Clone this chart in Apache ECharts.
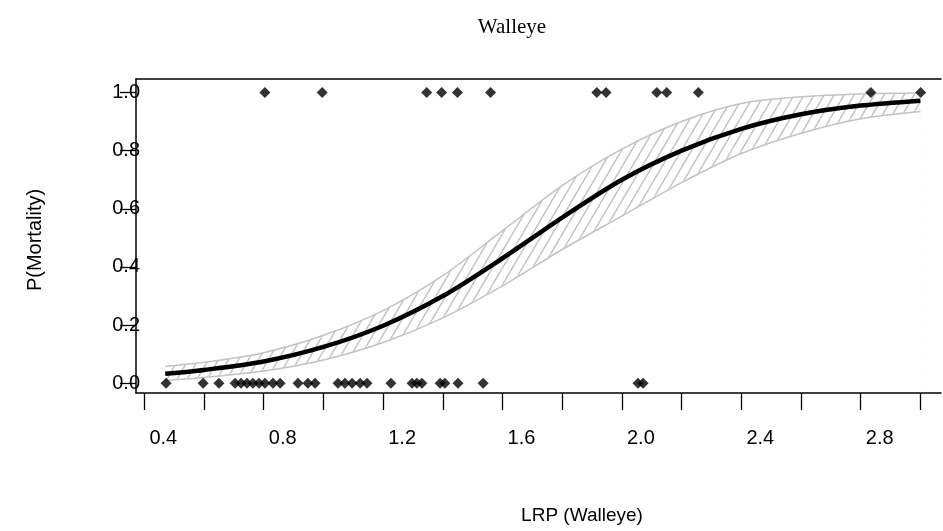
<!DOCTYPE html>
<html>
<head>
<meta charset="utf-8">
<script src="https://cdn.jsdelivr.net/npm/echarts@6/dist/echarts.min.js"></script>
<style>
html,body{margin:0;padding:0;background:#fff;}
#chart{width:943px;height:531px;}
</style>
</head>
<body>
<div id="chart"></div>
<script>
// ---- data ----
const titleText = 'Walleye';
const xTitle = 'LRP (Walleye)';
const yTitle = 'P(Mortality)';

const xTickValues = [0.4,0.6,0.8,1.0,1.2,1.4,1.6,1.8,2.0,2.2,2.4,2.6,2.8,3.0];
const xLabelValues = [0.4,0.8,1.2,1.6,2.0,2.4,2.8];
const yTickValues = [0.0,0.2,0.4,0.6,0.8,1.0];

// fitted logistic curve and its confidence band
const fitX    = [0.47, 0.6,  0.8,  1.0,  1.2,  1.4,  1.6,  1.8,  2.0,  2.2,  2.4,  2.6,  2.8,  3.0];
const fitP    = [0.033,0.046,0.075,0.125,0.198,0.300,0.430,0.570,0.700,0.800,0.875,0.925,0.955,0.972];
const ciUpper = [0.058,0.072,0.105,0.165,0.250,0.370,0.525,0.680,0.805,0.900,0.962,0.985,0.995,0.998];
const ciLower = [0.010,0.020,0.042,0.080,0.140,0.225,0.335,0.460,0.575,0.690,0.790,0.860,0.910,0.935];

// observed fish: mortality = 1 (top) and 0 (bottom)
const deadX  = [0.804,0.996,1.346,1.396,1.449,1.560,1.916,1.947,2.117,2.150,2.256,2.834,3.001];
const aliveX = [0.473,0.597,0.650,0.704,0.724,0.744,0.764,0.784,0.804,0.831,0.855,0.915,0.948,0.972,
                1.049,1.072,1.096,1.123,1.146,1.226,1.297,1.313,1.330,1.391,1.407,1.451,1.535,2.054,2.071];

// ---- build ----
const hatch = (function(){
  const w = 10, h = 17;
  const c = document.createElement('canvas');
  c.width = w; c.height = h;
  const g = c.getContext('2d');
  g.strokeStyle = '#c2c2c2';
  g.lineWidth = 1.4;
  for (const off of [-w, 0, w]) {
    g.beginPath();
    g.moveTo(off, h);
    g.lineTo(off + w, 0);
    g.stroke();
  }
  return c;
})();

const upperData = fitX.map((x,i)=>[x, ciUpper[i]]);
const lowerData = fitX.map((x,i)=>[x, ciLower[i]]);
const fitData = fitX.map((x,i)=>[x, fitP[i]]);
const deadData = deadX.map(x=>[x,1]);
const aliveData = aliveX.map(x=>[x,0]);

const labelFont = 'Liberation Sans, Arial, sans-serif';
const bandGray = '#c2c2c2';

const chart = echarts.init(document.getElementById('chart'), null, {renderer:'canvas'});
chart.setOption({
  animation:false,
  backgroundColor:'#ffffff',
  grid:{left:136, top:79, width:805, height:314, containLabel:false},
  xAxis:[{
    type:'value', min:0.3722, max:3.069, z:10,
    axisLine:{show:true, onZero:false, lineStyle:{color:'#000', width:1.5}},
    axisTick:{show:true, length:17, lineStyle:{color:'#000', width:1.3}, customValues:xTickValues},
    axisLabel:{show:true, customValues:xLabelValues, margin:35, padding:[0,0,0,38],
      color:'#000', fontSize:20, fontFamily:labelFont,
      formatter:v=>v.toFixed(1)},
    splitLine:{show:false}
  },{
    type:'value', position:'top', min:0.3722, max:3.069, z:10,
    axisLine:{show:true, onZero:false, lineStyle:{color:'#000', width:1.5}},
    axisTick:{show:false}, axisLabel:{show:false}, splitLine:{show:false}
  }],
  yAxis:{
    type:'value', min:-0.0334, max:1.0464, z:10,
    axisLine:{show:true, onZero:false, lineStyle:{color:'#000', width:1.5}},
    axisTick:{show:true, length:16, lineStyle:{color:'#000', width:1.3}, customValues:yTickValues},
    axisLabel:{show:true, customValues:yTickValues, margin:-4, align:'right',
      color:'#000', fontSize:20, fontFamily:labelFont,
      formatter:v=>v.toFixed(1)},
    splitLine:{show:false}
  },
  graphic:[
    {type:'text', x:512, y:27, style:{text:titleText, fill:'#000', font:'21px "Liberation Serif", "Times New Roman", serif', align:'center', verticalAlign:'middle'}},
    {type:'text', x:582, y:516, style:{text:xTitle, fill:'#000', font:'19px "Liberation Sans", Arial, sans-serif', align:'center', verticalAlign:'middle'}},
    {type:'text', x:35, y:240, rotation:Math.PI/2, style:{text:yTitle, fill:'#000', font:'20px "Liberation Sans", Arial, sans-serif', align:'center', verticalAlign:'middle'}}
  ],
  series:[
    // hatched area from the upper bound down to the floor
    {type:'line', data:upperData, smooth:0.3, symbol:'none',
      lineStyle:{color:bandGray, width:1.5},
      areaStyle:{color:{image:hatch, repeat:'repeat'}, opacity:1, origin:'start'}, z:1},
    // white mask below the lower bound leaves only the band hatched
    {type:'line', data:lowerData, smooth:0.3, symbol:'none',
      lineStyle:{color:bandGray, width:1.5},
      areaStyle:{color:'#ffffff', opacity:1, origin:'start', shadowColor:'#ffffff', shadowBlur:3}, z:2},
    {type:'line', data:fitData, smooth:0.3, symbol:'none',
      lineStyle:{color:'#000', width:4.5}, z:3},
    {type:'scatter', data:deadData, symbol:'diamond', symbolSize:11,
      itemStyle:{color:'#000'}, z:4},
    {type:'scatter', data:aliveData, symbol:'diamond', symbolSize:11,
      itemStyle:{color:'#000'}, z:4}
  ]
});
</script>
</body>
</html>
